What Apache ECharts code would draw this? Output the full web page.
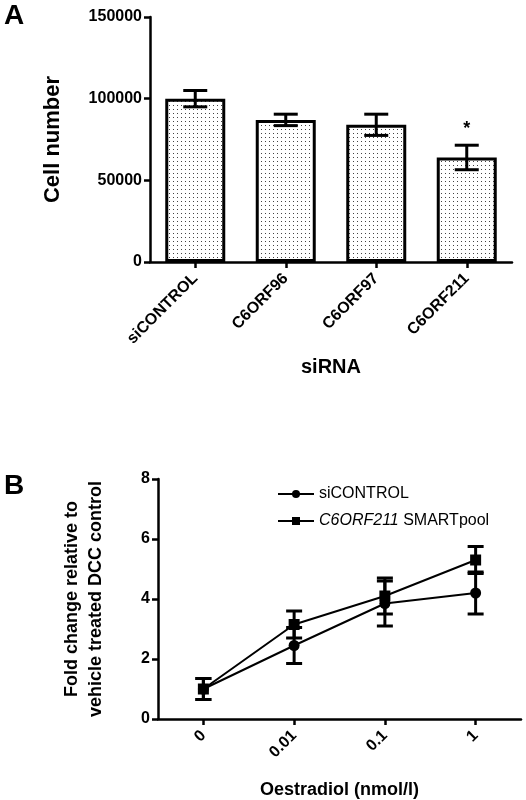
<!DOCTYPE html>
<html><head><meta charset="utf-8">
<script src="https://cdn.jsdelivr.net/npm/echarts@6/dist/echarts.min.js"></script>
<style>html,body{margin:0;padding:0;background:#fff}#c{width:526px;height:800px}</style>
</head><body><div id="c"></div>
<script>
const categoriesA = ['siCONTROL','C6ORF96','C6ORF97','C6ORF211'];
const cellNumber = [100000, 87000, 84000, 64000];
const cellErr = [5000, 3500, 6500, 7500];
const categoriesB = ['0','0.01','0.1','1'];
const siControl = [1.0, 2.45, 3.85, 4.2];
const siControlErr = [0.35, 0.6, 0.75, 0.7];
const smartpool = [1.0, 3.15, 4.1, 5.3];
const smartpoolErr = [0.35, 0.45, 0.6, 0.45];

const F = 'Liberation Sans, Arial, sans-serif';
const pc = document.createElement('canvas'); pc.width = 4; pc.height = 4;
const px = pc.getContext('2d'); px.fillStyle = '#fff'; px.fillRect(0,0,4,4);
px.fillStyle = '#444'; px.fillRect(1,1,1,1);

function errSeries(x, y, vals, errs, cap, z) {
  return {type:'custom', xAxisIndex:x, yAxisIndex:y, z:z||5,
    data: vals.map((v,i)=>[i, v, errs[i]]),
    renderItem(params, api){
      const i=api.value(0), v=api.value(1), e=api.value(2);
      const hi=api.coord([i,v+e]), lo=api.coord([i,v-e]);
      const st={stroke:'#000', lineWidth:3};
      return {type:'group', children:[
        {type:'line', shape:{x1:hi[0],y1:hi[1],x2:lo[0],y2:lo[1]}, style:st},
        {type:'line', shape:{x1:hi[0]-cap,y1:hi[1],x2:hi[0]+cap,y2:hi[1]}, style:st},
        {type:'line', shape:{x1:lo[0]-cap,y1:lo[1],x2:lo[0]+cap,y2:lo[1]}, style:st}
      ]};
    }};
}
const axLine = {show:true, lineStyle:{color:'#000', width:2.5}};
const axTick = {show:true, length:6, lineStyle:{color:'#000', width:2.5}};
const lbl = {fontFamily:F, fontWeight:'bold', fontSize:16, color:'#000'};
const chart = echarts.init(document.getElementById('c'));
chart.setOption({
  animation:false,
  graphic:[
    {type:'text', left:4, top:2, style:{text:'A', font:'bold 28px '+F, fill:'#000'}},
    {type:'text', left:4, top:472, style:{text:'B', font:'bold 28px '+F, fill:'#000'}}
  ],
  legend:{top:481, left:272, orient:'vertical', itemGap:11, itemWidth:36, itemHeight:10,
    textStyle:{fontFamily:F, fontSize:16, color:'#000', rich:{i:{fontStyle:'italic', fontFamily:F, fontSize:16}}},
    formatter: n => n==='siCONTROL' ? n : '{i|C6ORF211} SMARTpool',
    data:['siCONTROL','C6ORF211 SMARTpool']},
  grid:[
    {left:150, top:17, width:362, height:245},
    {left:158, top:479, width:363, height:241}
  ],
  xAxis:[
    {type:'category', gridIndex:0, data:categoriesA, axisLine:axLine, axisTick:{...axTick, alignWithLabel:true},
     axisLabel:{...lbl, rotate:45, margin:14},
     name:'siRNA', nameLocation:'middle', nameGap:95, nameTextStyle:{fontFamily:F, fontWeight:'bold', fontSize:20, color:'#000'}},
    {type:'category', gridIndex:1, data:categoriesB, axisLine:axLine, axisTick:{...axTick, alignWithLabel:true},
     axisLabel:{...lbl, rotate:45, margin:14},
     name:'Oestradiol (nmol/l)', nameLocation:'middle', nameGap:62, nameTextStyle:{fontFamily:F, fontWeight:'bold', fontSize:18, color:'#000'}}
  ],
  yAxis:[
    {type:'value', gridIndex:0, min:0, max:150000, interval:50000, splitLine:{show:false}, axisLine:axLine, axisTick:axTick,
     axisLabel:{...lbl, formatter: v => String(v)},
     name:'Cell number', nameLocation:'middle', nameGap:86, nameTextStyle:{fontFamily:F, fontWeight:'bold', fontSize:22, color:'#000'}},
    {type:'value', gridIndex:1, min:0, max:8, interval:2, splitLine:{show:false}, axisLine:axLine, axisTick:axTick,
     axisLabel:lbl,
     name:'Fold change relative to\nvehicle treated DCC control', nameLocation:'middle', nameGap:50,
     nameTextStyle:{fontFamily:F, fontWeight:'bold', fontSize:18, color:'#000', lineHeight:24}}
  ],
  series:[
    {type:'bar', xAxisIndex:0, yAxisIndex:0, data:cellNumber, barWidth:60,
     itemStyle:{color:{image:pc, repeat:'repeat'}, borderColor:'#000', borderWidth:3},
     markPoint:{symbol:'circle', symbolSize:0, data:[{coord:[3, 73000], label:{show:true, formatter:'*', position:'top', fontSize:18, fontWeight:'bold', color:'#000', fontFamily:F}}]}},
    errSeries(0,0,cellNumber,cellErr,12),
    {name:'siCONTROL', type:'line', xAxisIndex:1, yAxisIndex:1, data:siControl, symbol:'circle', symbolSize:11,
     lineStyle:{color:'#000', width:2}, itemStyle:{color:'#000'}},
    {name:'C6ORF211 SMARTpool', type:'line', xAxisIndex:1, yAxisIndex:1, data:smartpool, symbol:'rect', symbolSize:11,
     lineStyle:{color:'#000', width:2}, itemStyle:{color:'#000'}},
    errSeries(1,1,siControl,siControlErr,8),
    errSeries(1,1,smartpool,smartpoolErr,8)
  ]
});
</script></body></html>
